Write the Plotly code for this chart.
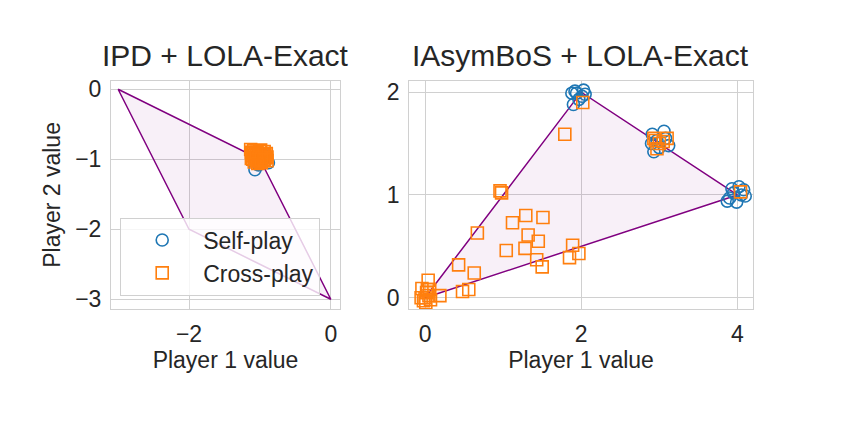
import plotly.graph_objects as go

# feasible payoff polygons
ipd_poly_x = [-3, -1, 0, -2, -3]
ipd_poly_y = [0, -1, -3, -2, 0]
bos_poly_x = [0, 2, 4, 0]
bos_poly_y = [0, 2, 1, 0]

# IPD + LOLA-Exact
ipd_self_x = [-1.07, -0.88, -0.95, -1.0, -1.02, -0.92]
ipd_self_y = [-1.15, -1.05, -1.0, -0.98, -1.08, -0.95]
ipd_cross_x = [-1.12, -1.08, -1.0, -0.95, -0.92, -1.05, -0.98, -1.1, -0.9, -1.02, -0.96, -1.06,
               -1.13, -1.09, -1.04, -0.99, -0.94, -0.91, -1.11, -1.07, -1.01, -0.97, -0.93,
               -1.12, -1.06, -1.0, -0.95, -0.9, -1.08, -1.03, -0.98, -1.1, -1.05, -0.94]
ipd_cross_y = [-0.9, -0.95, -0.88, -0.92, -0.98, -1.02, -1.05, -1.0, -1.02, -0.96, -0.93, -0.98,
               -0.86, -0.88, -0.9, -0.87, -0.89, -0.92, -0.95, -0.93, -0.95, -0.97, -0.94,
               -0.99, -1.0, -1.03, -1.02, -0.97, -1.04, -1.06, -1.0, -0.92, -0.91, -1.0]

# IAsymBoS + LOLA-Exact
bos_self_x = [1.94, 1.88, 2.03, 1.9, 2.01, 1.97, 1.92, 2.05, 2.91, 3.06, 3.12, 2.93, 3.0, 2.97,
              3.08, 2.9, 4.02, 3.87, 4.1, 3.95, 3.9, 4.08, 3.99, 4.05, 3.93]
bos_self_y = [1.99, 1.99, 2.02, 1.88, 1.96, 1.93, 2.01, 1.98, 1.59, 1.62, 1.48, 1.42, 1.46, 1.53,
              1.55, 1.5, 1.08, 0.94, 0.99, 1.02, 0.97, 1.05, 0.93, 1.0, 1.06]
bos_cross_x = [0.96, 0.98, 1.12, 1.29, 1.51, 0.67, 1.32, 1.45, 1.04, 1.28, 1.43, 1.5,
               1.89, 1.85, 1.97, 0.43, 0.63, 0.48, 0.56, 0.19, 0.04, 0.0, 0.02, 0.05,
               -0.02, 0.03, -0.05, 0.06, -0.04, 0.07, 0.01,
               1.79, 2.02, 2.95, 3.1, 2.97, 3.0, 2.93, 3.05, 4.04]
bos_cross_y = [1.04, 1.02, 0.73, 0.8, 0.78, 0.63, 0.61, 0.55, 0.46, 0.48, 0.37, 0.3,
               0.51, 0.39, 0.43, 0.32, 0.24, 0.06, 0.08, 0.02, 0.17, 0.0, 0.05, 0.02,
               -0.03, 0.08, 0.0, 0.08, 0.09, -0.02, -0.05,
               1.59, 1.9, 1.53, 1.55, 1.45, 1.5, 1.55, 1.52, 1.03]

blue = "#1f77b4"
orange = "#ff7f0e"
purple = "#800080"
text_col = "#262626"
grid_col = "#d0d0d0"

fig = go.Figure()

for poly_x, poly_y, ax in [(ipd_poly_x, ipd_poly_y, ("x", "y")), (bos_poly_x, bos_poly_y, ("x2", "y2"))]:
    fig.add_trace(go.Scatter(x=poly_x, y=poly_y, mode="lines", fill="toself",
                             fillcolor="rgba(128,0,128,0.06)", line=dict(color=purple, width=1.5),
                             xaxis=ax[0], yaxis=ax[1], showlegend=False, hoverinfo="skip"))

fig.add_trace(go.Scatter(x=ipd_self_x, y=ipd_self_y, mode="markers", name="Self-play",
                         marker=dict(symbol="circle-open", size=12, color=blue, line=dict(width=1.6)),
                         xaxis="x", yaxis="y"))
fig.add_trace(go.Scatter(x=ipd_cross_x, y=ipd_cross_y, mode="markers", name="Cross-play",
                         marker=dict(symbol="square-open", size=12, color=orange, line=dict(width=1.6)),
                         xaxis="x", yaxis="y"))
fig.add_trace(go.Scatter(x=bos_self_x, y=bos_self_y, mode="markers", name="Self-play",
                         marker=dict(symbol="circle-open", size=12, color=blue, line=dict(width=1.6)),
                         xaxis="x2", yaxis="y2", showlegend=False))
fig.add_trace(go.Scatter(x=bos_cross_x, y=bos_cross_y, mode="markers", name="Cross-play",
                         marker=dict(symbol="square-open", size=12, color=orange, line=dict(width=1.6)),
                         xaxis="x2", yaxis="y2", showlegend=False))

axis_style = dict(showgrid=True, gridcolor=grid_col, gridwidth=1, zeroline=False,
                  showline=True, linecolor=grid_col, linewidth=1, mirror=True,
                  ticks="", tickfont=dict(size=23, color=text_col), ticklabelstandoff=4)

fig.update_layout(
    width=850, height=423,
    margin=dict(l=0, r=0, t=0, b=0),
    paper_bgcolor="white", plot_bgcolor="white",
    font=dict(family="Liberation Sans", color=text_col),
    xaxis=dict(domain=[0.1212, 0.3906], range=[-3.1, 0.13], dtick=2, anchor="y",
               title=dict(text="Player 1 value", font=dict(size=23), standoff=6), **axis_style),
    yaxis=dict(domain=[0.286, 0.8345], range=[-3.14, 0.12], dtick=1, anchor="x",
               title=dict(text="Player 2 value", font=dict(size=23), standoff=8), **axis_style),
    xaxis2=dict(domain=[0.4718, 0.8765], range=[-0.205, 4.2], dtick=2, anchor="y2",
                title=dict(text="Player 1 value", font=dict(size=23), standoff=6), **axis_style),
    yaxis2=dict(domain=[0.286, 0.8345], range=[-0.11, 2.11], dtick=1, anchor="x2", **axis_style),
    legend=dict(x=0.132, y=0.506, xanchor="left", yanchor="top",
                bgcolor="rgba(255,255,255,0.8)", bordercolor=grid_col, borderwidth=1,
                font=dict(size=23, color=text_col), itemwidth=72),
    annotations=[
        dict(text="IPD + LOLA-Exact", x=0.256, y=0.85, xref="paper", yref="paper",
             xanchor="center", yanchor="bottom", showarrow=False, font=dict(size=30, color=text_col)),
        dict(text="IAsymBoS + LOLA-Exact", x=0.6741, y=0.85, xref="paper", yref="paper",
             xanchor="center", yanchor="bottom", showarrow=False, font=dict(size=30, color=text_col)),
    ],
)

fig.write_html("out.html")
